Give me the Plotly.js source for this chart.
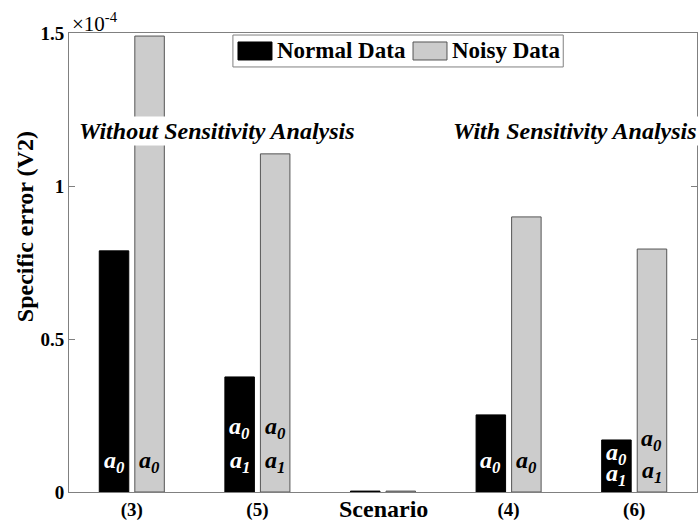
<!DOCTYPE html>
<html>
<head>
<meta charset="utf-8">
<script src="https://cdn.plot.ly/plotly-3.0.1.min.js"></script>
<style>
  html, body { margin: 0; padding: 0; background: #fff; }
  #chart { width: 699px; height: 522px; }
</style>
</head>
<body>
<div id="chart"></div>
<script>
// Scenario categories (the middle slot has no label of its own)
const categories = ['(3)', '(5)', '', '(4)', '(6)'];

// Specific error (V2) per scenario
const normalData = [0.788e-4, 0.376e-4, 0.003e-4, 0.252e-4, 0.170e-4];
const noisyData  = [1.490e-4, 1.105e-4, 0.003e-4, 0.899e-4, 0.794e-4];

// Parameters identified in each scenario (subscripts of a)
const normalParams = [['0'], ['0', '1'], [], ['0'], ['0', '1']];
const noisyParams  = [['0'], ['0', '1'], [], ['0'], ['0', '1']];

const seriesNames = ['Normal Data', 'Noisy Data'];
const yTickVals = [0, 0.5e-4, 1e-4, 1.5e-4];
const yTickText = ['0', '0.5', '1', '1.5'];

const FONT = 'Liberation Serif, Times New Roman, serif';
const COLORS = { normal: '#000000', noisy: '#cccccc', noisyEdge: '#555555', frame: '#808080' };
const xIdx = categories.map((_, i) => i);

const traces = [
  {
    type: 'bar', name: seriesNames[0], x: xIdx, y: normalData, showlegend: false,
    marker: { color: COLORS.normal, line: { color: COLORS.normal, width: 1 } },
    hoverinfo: 'skip'
  },
  {
    type: 'bar', name: seriesNames[1], x: xIdx, y: noisyData, showlegend: false,
    marker: { color: COLORS.noisy, line: { color: COLORS.noisyEdge, width: 1 } },
    hoverinfo: 'skip'
  }
];

// label placement: pixel height of each row above the baseline
function rowShifts(n, cramped, gray) {
  if (n === 1) return [30];
  if (cramped) return gray ? [52, 20] : [38, 17];
  return [64, 30];
}

const annotations = [];
const paramFont = { family: FONT, size: 24, weight: 'bold', style: 'italic' };
function addParams(list, offset, color, gray) {
  list.forEach((subs, i) => {
    const cramped = i === 4;
    const shifts = rowShifts(subs.length, cramped, gray);
    subs.forEach((s, k) => {
      annotations.push({
        xref: 'x', yref: 'y', x: xIdx[i] + offset, y: 0,
        yanchor: 'middle', xanchor: 'center', yshift: shifts[k],
        text: 'a<sub>' + s + '</sub>', showarrow: false,
        font: Object.assign({}, paramFont, { color: color })
      });
    });
  });
}
addParams(normalParams, -0.1415, '#ffffff', false);
addParams(noisyParams, 0.1415, '#000000', true);

const noteFont = { family: FONT, size: 24, weight: 'bold', style: 'italic', color: '#000' };
const boldFont = { family: FONT, size: 24, weight: 'bold', color: '#000' };
annotations.push(
  { xref: 'x', yref: 'y', x: 0.68, y: 1.18e-4, text: 'Without Sensitivity Analysis',
    showarrow: false, bgcolor: '#ffffff', font: noteFont },
  { xref: 'x', yref: 'y', x: 3.525, y: 1.18e-4, text: 'With Sensitivity Analysis',
    showarrow: false, bgcolor: '#ffffff', font: noteFont },
  { xref: 'paper', yref: 'paper', x: 0, y: 1, xanchor: 'left', yanchor: 'bottom',
    xshift: 1, yshift: -5, text: '×10<sup>-4</sup>', showarrow: false,
    font: { family: FONT, size: 21, color: '#000' } },
  { xref: 'x', yref: 'paper', x: 2, y: 0, xanchor: 'center', yanchor: 'top',
    yshift: -3, borderpad: 0, text: 'Scenario', showarrow: false, font: boldFont },
  { xref: 'paper', yref: 'paper', x: 0, y: 0.577, xshift: -44, textangle: -90,
    xanchor: 'center', yanchor: 'middle', text: 'Specific error (V2)',
    showarrow: false, font: boldFont }
);

// legend box with one swatch and label per series
const legendBox = { x0: 0.261, x1: 0.787, y0: 0.926, y1: 0.9956 };
const legendItems = [
  { sx0: 0.2691, sx1: 0.3232, tx: 0.3280, fill: COLORS.normal, edge: COLORS.normal },
  { sx0: 0.5478, sx1: 0.6019, tx: 0.6067, fill: COLORS.noisy, edge: COLORS.noisyEdge }
];
const shapes = [{
  type: 'rect', xref: 'paper', yref: 'paper',
  x0: legendBox.x0, x1: legendBox.x1, y0: legendBox.y0, y1: legendBox.y1,
  fillcolor: '#ffffff', line: { color: COLORS.frame, width: 1 }, layer: 'above'
}];
legendItems.forEach((it, i) => {
  shapes.push({
    type: 'rect', xref: 'paper', yref: 'paper', x0: it.sx0, x1: it.sx1,
    y0: 0.9412, y1: 0.9804, fillcolor: it.fill, line: { color: it.edge, width: 1 }, layer: 'above'
  });
  annotations.push({
    xref: 'paper', yref: 'paper', x: it.tx, y: 0.9608, xanchor: 'left', yanchor: 'middle',
    text: seriesNames[i], showarrow: false,
    font: { family: FONT, size: 23, weight: 'bold', color: '#000' }
  });
});

const layout = {
  width: 699, height: 522,
  margin: { l: 69, r: 2, t: 33, b: 30, pad: 0 },
  paper_bgcolor: '#ffffff', plot_bgcolor: '#ffffff',
  font: { family: FONT, color: '#000' },
  barmode: 'group', bargap: 0.434, bargroupgap: 0.17,
  showlegend: false,
  xaxis: {
    range: [-0.5, 4.5], tickmode: 'array', tickvals: xIdx, ticktext: categories,
    showline: true, linecolor: COLORS.frame, linewidth: 1, mirror: true,
    ticks: '', showgrid: false, zeroline: false,
    tickfont: { family: FONT, size: 19, weight: 'bold', color: '#000' },
    fixedrange: true
  },
  yaxis: {
    range: [0, 1.5e-4], tickmode: 'array', tickvals: yTickVals, ticktext: yTickText,
    showline: true, linecolor: COLORS.frame, linewidth: 1, mirror: 'ticks',
    ticks: 'inside', ticklen: 6, tickcolor: COLORS.frame,
    showgrid: false, zeroline: false,
    tickfont: { family: FONT, size: 19, weight: 'bold', color: '#000' },
    fixedrange: true
  },
  shapes: shapes,
  annotations: annotations
};

Plotly.newPlot('chart', traces, layout, { displayModeBar: false, staticPlot: true });
</script>
</body>
</html>
